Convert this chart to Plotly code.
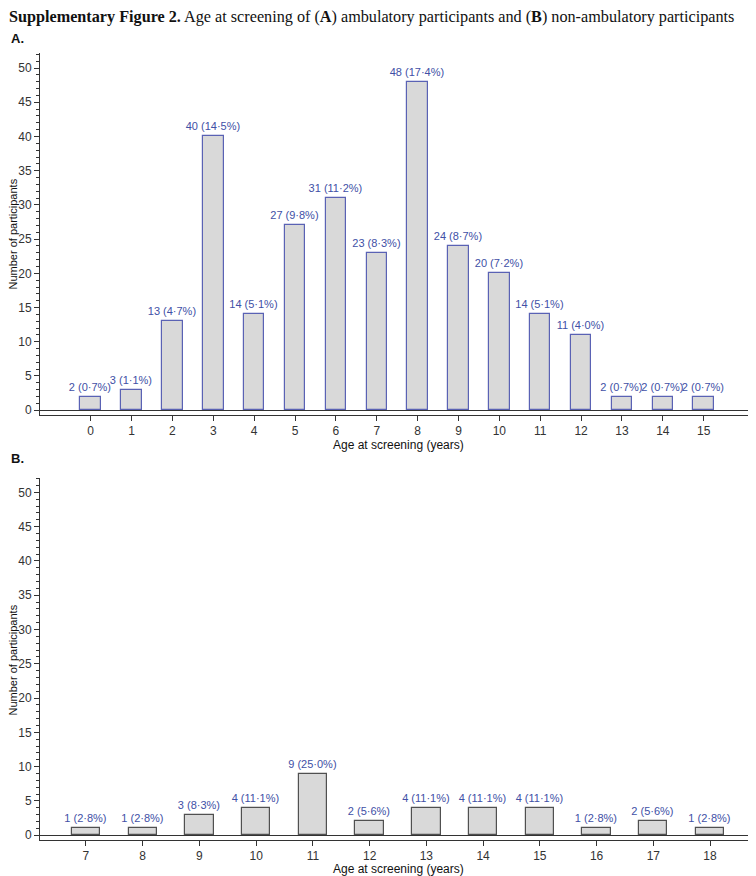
import plotly.graph_objects as go

# Panel A: ambulatory
ages_a = list(range(0, 16))
counts_a = [2, 3, 13, 40, 14, 27, 31, 23, 48, 24, 20, 14, 11, 2, 2, 2]
labels_a = ["2 (0·7%)", "3 (1·1%)", "13 (4·7%)", "40 (14·5%)", "14 (5·1%)", "27 (9·8%)",
            "31 (11·2%)", "23 (8·3%)", "48 (17·4%)", "24 (8·7%)", "20 (7·2%)", "14 (5·1%)",
            "11 (4·0%)", "2 (0·7%)", "2 (0·7%)", "2 (0·7%)"]

# Panel B: non-ambulatory
ages_b = list(range(7, 19))
counts_b = [1, 1, 3, 4, 9, 2, 4, 4, 4, 1, 2, 1]
labels_b = ["1 (2·8%)", "1 (2·8%)", "3 (8·3%)", "4 (11·1%)", "9 (25·0%)", "2 (5·6%)",
            "4 (11·1%)", "4 (11·1%)", "4 (11·1%)", "1 (2·8%)", "2 (5·6%)", "1 (2·8%)"]

FONT = "Liberation Sans, Arial, sans-serif"
LBL = "#4150a6"

fig = go.Figure()
fig.add_trace(go.Bar(x=ages_a, y=counts_a, text=labels_a, textposition="outside",
                     constraintext="none", width=0.5,
                     marker=dict(color="#d9d9d9", line=dict(color="#5a62b4", width=1.2)),
                     textfont=dict(color=LBL, size=11, family=FONT), cliponaxis=False,
                     xaxis="x", yaxis="y", showlegend=False))
fig.add_trace(go.Bar(x=ages_b, y=counts_b, text=labels_b, textposition="outside",
                     constraintext="none", width=0.5,
                     marker=dict(color="#d9d9d9", line=dict(color="#505050", width=1.2)),
                     textfont=dict(color=LBL, size=11, family=FONT), cliponaxis=False,
                     xaxis="x2", yaxis="y2", showlegend=False))

yax = dict(dtick=5, tick0=0, ticks="outside", ticklen=5, tickwidth=1,
           tickcolor="#333", showline=True, linecolor="#333", linewidth=1, showgrid=False,
           zeroline=True, zerolinecolor="#333", zerolinewidth=1,
           minor=dict(dtick=1, ticks="outside", ticklen=3, tickcolor="#333", showgrid=False),
           tickfont=dict(size=12, family=FONT, color="#333"))
xax = dict(ticks="outside", ticklen=5, tickcolor="#333",
           showline=True, linecolor="#333", linewidth=1, showgrid=False, zeroline=False,
           tickfont=dict(size=12, family=FONT, color="#333"))
xtitle = "Age at screening (years)"
ytitle = "Number of participants"

# page has an 8px body margin: figure coords = page coords - 8
W, H = 748, 868
ML, MT, MB = 32, 45, 36
PH = H - MT - MB  # 787
PW = W - ML       # 716

def py(page_y):
    return (H - MB - (page_y - 8)) / PH

def px(page_x):
    return (page_x - 8 - ML) / PW

def ann(text, x, y, size=12, angle=0, xanchor="center", family=FONT):
    return dict(text=text, xref="paper", yref="paper", x=x, y=y, xanchor=xanchor, yanchor="middle",
                showarrow=False, textangle=angle, borderpad=0,
                font=dict(family=family, size=size, color="#111"))

fig.update_layout(
    width=W, height=H, margin=dict(l=ML, r=0, t=MT, b=MB),
    plot_bgcolor="white", paper_bgcolor="white", bargap=0,
    xaxis=dict(xax, range=[-1.24, 16.28], domain=[0, 1], anchor="y", tickvals=ages_a),
    yaxis=dict(yax, domain=[py(415), 1], anchor="x", range=[-0.7, 52.2]),
    xaxis2=dict(xax, range=[6.19, 18.81], domain=[0, 1], anchor="y2", tickvals=ages_b),
    yaxis2=dict(yax, domain=[0, py(478)], anchor="x2", range=[-0.7, 52.1]),
    annotations=[
        ann("<b>Supplementary Figure 2.</b> Age at screening of (<b>A</b>) ambulatory participants and (<b>B</b>) non-ambulatory participants",
            px(8), py(17), size=16.2, xanchor="left", family="Liberation Serif, Times New Roman, serif"),
        ann("<b>A.</b>", px(10), py(38), size=13, xanchor="left"),
        ann("<b>B.</b>", px(10), py(459), size=13, xanchor="left"),
        ann(xtitle, 0.5, py(445)),
        ann(xtitle, 0.5, py(869.5)),
        ann(ytitle, px(12.5), py(234), size=11, angle=-90),
        ann(ytitle, px(12.5), py(660), size=11, angle=-90),
    ],
)

fig.write_html("out.html")
